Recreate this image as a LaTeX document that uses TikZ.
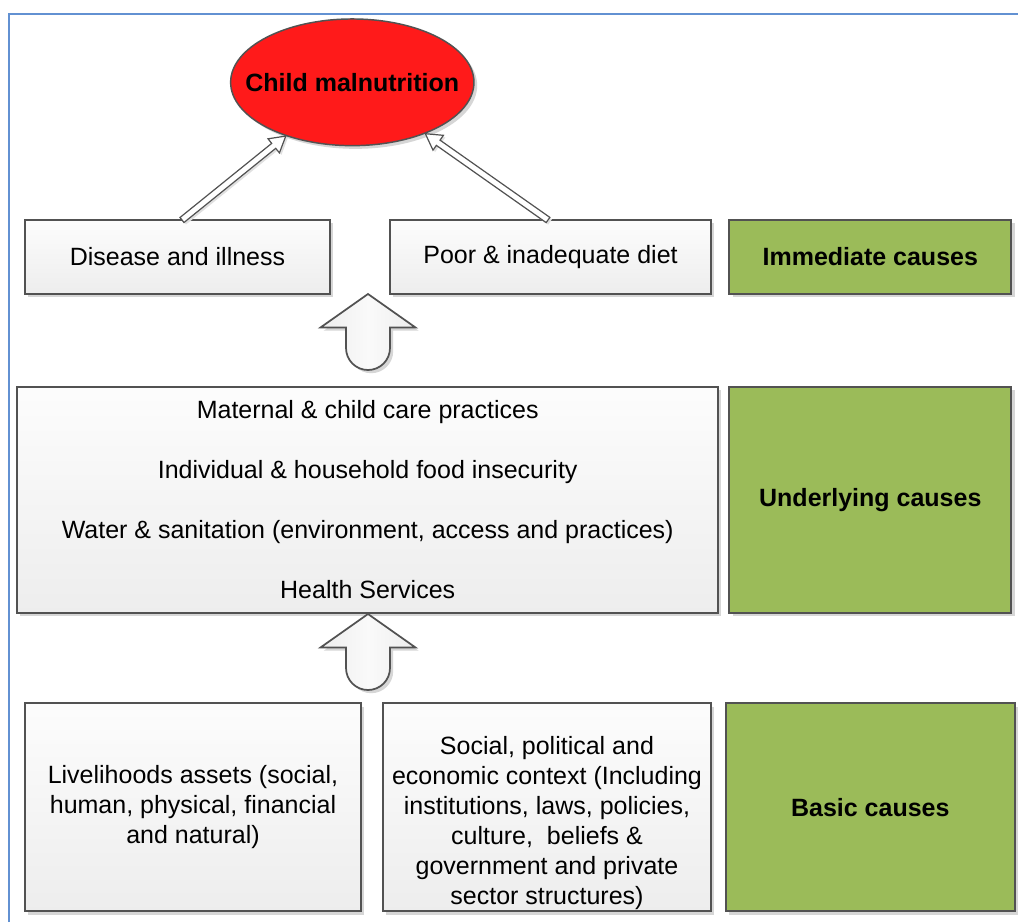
\documentclass[tikz,border=0pt]{standalone}
\usepackage{fontspec}
\setmainfont{Liberation Sans}
\usetikzlibrary{shapes.geometric,shadows,calc}

\definecolor{framecol}{RGB}{98,145,210}
\definecolor{edgecol}{RGB}{82,82,82}
\definecolor{causegreen}{RGB}{155,187,89}
\definecolor{alarmred}{RGB}{255,26,26}

\newcommand\mainsize{\fontsize{18.75pt}{22.5pt}\selectfont}

\tikzset{
  shadowed/.style={drop shadow={shadow xshift=2.4pt, shadow yshift=-2.4pt, fill=black!16, opacity=1}},
  factor/.style={draw=edgecol, line width=1.3pt, top color=black!1, bottom color=black!7,
    shadowed, inner sep=0pt, align=center, font=\mainsize},
  boxtext/.style={inner sep=0pt, align=center, font=\mainsize},
  level/.style={draw=edgecol, line width=1.3pt, fill=causegreen, shadowed,
    inner sep=0pt, align=center, font=\mainsize\bfseries},
  outcome/.style={ellipse, draw=edgecol, line width=1.1pt, fill=alarmred, shadowed,
    inner sep=0pt, minimum width=182.5pt, minimum height=95pt, font=\mainsize\bfseries},
  thinarrow/.style={draw=edgecol, line width=0.9pt, fill=white, line join=miter,
    drop shadow={shadow xshift=1.5pt, shadow yshift=-1.5pt, fill=black!12, opacity=1}},
  blockarrow/.style={draw=edgecol, line width=1.3pt, left color=black!7, right color=black!7,
    middle color=black!2, shadowed},
}

% open arrow with a narrow shaft, from #1 to #2
\newcommand\hollowarrow[2]{%
  \draw[thinarrow] let \p1=(#1), \p2=(#2),
      \n1={atan2(\y2-\y1,\x2-\x1)}, \n2={veclen(\x2-\x1,\y2-\y1)} in
    ($(\p1)+(\n1+90:2.4pt)$)
    -- ($(\p1)+(\n1:\n2-11.5pt)+(\n1+90:2.4pt)$)
    -- ($(\p1)+(\n1:\n2-11.5pt)+(\n1+90:6.8pt)$)
    -- (\p2)
    -- ($(\p1)+(\n1:\n2-11.5pt)+(\n1-90:6.8pt)$)
    -- ($(\p1)+(\n1:\n2-11.5pt)+(\n1-90:2.4pt)$)
    -- ($(\p1)+(\n1-90:2.4pt)$) -- cycle;
}

\begin{document}
\begin{tikzpicture}[x=0.75pt, y=-0.75pt]
\useasboundingbox (0,0) rectangle (1018,922);
\fill[white] (0,0) rectangle (1018,922);

% outer frame
\draw[framecol, line width=1.3pt] (9,922) -- (9,14) -- (1018,14);

% outcome
\node[outcome] (mal) at (352.3,82.3) {\makebox[0pt]{Child malnutrition}};

% immediate causes
\node[factor, minimum width=228.75pt, minimum height=55.5pt] (dis) at (177.5,257) {Disease and illness};
\node[factor, minimum width=240.75pt, minimum height=55.5pt] (poor) at (550.5,257) {Poor \& inadequate diet};
\node[level, minimum width=211.5pt, minimum height=55.5pt] (imm) at (870.3,257) {Immediate causes};

% underlying causes
\node[factor, minimum width=525.75pt, minimum height=169.5pt] (mid) at (367.7,500) {%
  Maternal \& child care practices\\[22.5pt]
  Individual \& household food insecurity\\[22.5pt]
  Water \& sanitation (environment, access and practices)\\[22.5pt]
  Health Services};
\node[level, minimum width=211.5pt, minimum height=169.5pt] (und) at (870.3,500) {Underlying causes};

% basic causes
\node[factor, minimum width=252pt, minimum height=156pt] (liv) at (193,807.3) {%
  Livelihoods assets (social,\\ human, physical, financial\\ and natural)};
\node[factor, minimum width=246pt, minimum height=156pt] (soc) at (547,807.3) {};
\node[boxtext] (soctext) at (547,823) {%
  Social, political and\\ economic context (Including\\ institutions, laws, policies,\\
  culture,\ \ beliefs \&\\ government and private\\ sector structures)};
\node[level, minimum width=217pt, minimum height=156pt] (bas) at (870.3,807.3) {Basic causes};

% links from the immediate causes to the outcome
\coordinate (d1) at (182,220);
\coordinate (p1) at (548,220);
\path (d1) -- (mal) coordinate[pos=1] (m1);
\path (p1) -- (mal) coordinate[pos=1] (m2);
\hollowarrow{d1}{m1}
\hollowarrow{p1}{m2}

% block arrows between the levels
\coordinate (tip1) at (368,294);
\coordinate (tip2) at (368,614);
\foreach \t in {tip1,tip2}
  \draw[blockarrow, shift={(\t)}] (0,0) -- (47.5,33.5) -- (22,33.5) -- (22,54)
    arc[start angle=0, end angle=180, radius=22] -- (-22,33.5) -- (-47.5,33.5) -- cycle;

\end{tikzpicture}
\end{document}
